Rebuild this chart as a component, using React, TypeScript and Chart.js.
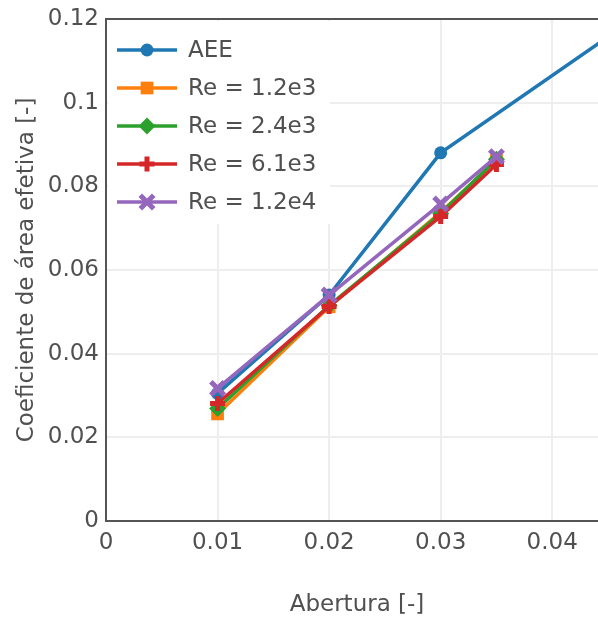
import React, { useEffect, useRef } from 'react';
import { Chart, registerables } from 'chart.js';
import { drawPoint } from 'chart.js/helpers';

Chart.register(...registerables);

// ---- data ----
const seriesLabels = ['AEE', 'Re = 1.2e3', 'Re = 2.4e3', 'Re = 6.1e3', 'Re = 1.2e4'];
const xAEE = [0.01, 0.02, 0.03, 0.05];
const yAEE = [0.0305, 0.054, 0.088, 0.125];
const xRe = [0.01, 0.02, 0.03, 0.035];
const yRe12e3 = [0.0256, 0.0512, 0.0738, 0.0862];
const yRe24e3 = [0.0269, 0.0515, 0.0735, 0.0865];
const yRe61e3 = [0.0281, 0.0513, 0.0728, 0.0852];
const yRe12e4 = [0.0317, 0.0540, 0.0758, 0.0871];

const xTickValues = [0, 0.01, 0.02, 0.03, 0.04];
const xTickLabels = ['0', '0.01', '0.02', '0.03', '0.04'];
const yTickValues = [0, 0.02, 0.04, 0.06, 0.08, 0.1, 0.12];
const yTickLabels = ['0', '0.02', '0.04', '0.06', '0.08', '0.1', '0.12'];

const xTitle = 'Abertura [-]';
const yTitle = 'Coeficiente de área efetiva [-]';

// ---- styles ----
const colors = ['#1f77b4', '#ff7f0e', '#2ca02c', '#d62728', '#9467bd'];
const pointStyles = ['circle', 'rect', 'rectRot', 'cross', 'crossRot'];
const pointRadii = [6.5, 9, 8.5, 7.5, 9.5];
const pointBorderWidths = [0, 0, 0, 5, 5];

const FONT_FAMILY = 'DejaVu Sans';
const FONT_SIZE = 23;
const TEXT_COLOR = '#505050';
const AXIS_COLOR = '#555555';
const GRID_COLOR = '#eeeeee';

const CANVAS_W = 612;
const CANVAS_H = 619;

export default function App() {
  const ref = useRef<HTMLCanvasElement>(null);

  useEffect(() => {
    const canvas = ref.current;
    if (!canvas) return;

    const xs = [xAEE, xRe, xRe, xRe, xRe];
    const ys = [yAEE, yRe12e3, yRe24e3, yRe61e3, yRe12e4];

    const datasets = seriesLabels.map((label, i) => ({
      label,
      data: xs[i].map((x, j) => ({ x, y: ys[i][j] })),
      borderColor: colors[i],
      backgroundColor: colors[i],
      borderWidth: 3.5,
      pointStyle: pointStyles[i],
      pointRadius: pointRadii[i],
      pointBorderWidth: pointBorderWidths[i],
      pointBorderColor: colors[i],
      pointBackgroundColor: colors[i],
      order: seriesLabels.length - i,
      tension: 0,
      fill: false,
    }));

    const frame = {
      id: 'frame',
      beforeDatasetsDraw(chart: any) {
        const { ctx, chartArea } = chart;
        ctx.save();
        ctx.strokeStyle = AXIS_COLOR;
        ctx.lineWidth = 2;
        ctx.beginPath();
        ctx.moveTo(chartArea.left - 1, chartArea.top);
        ctx.lineTo(chartArea.right + 1, chartArea.top);
        ctx.moveTo(chartArea.right, chartArea.top);
        ctx.lineTo(chartArea.right, chartArea.bottom);
        ctx.stroke();
        ctx.restore();
      },
    };

    const legend = {
      id: 'plotlyLegend',
      afterDatasetsDraw(chart: any) {
        const { ctx, chartArea } = chart;
        const left = chartArea.left;
        const top = chartArea.top;
        ctx.save();
        ctx.fillStyle = '#ffffff';
        ctx.fillRect(left + 2, top + 2, 222, 203);
        seriesLabels.forEach((label, i) => {
          const y = top + 31 + i * 38;
          ctx.strokeStyle = colors[i];
          ctx.lineWidth = 3.5;
          ctx.beginPath();
          ctx.moveTo(left + 11, y);
          ctx.lineTo(left + 71, y);
          ctx.stroke();
          ctx.fillStyle = colors[i];
          ctx.strokeStyle = colors[i];
          ctx.lineWidth = pointBorderWidths[i];
          drawPoint(ctx, {
            pointStyle: pointStyles[i],
            radius: pointRadii[i],
            borderWidth: pointBorderWidths[i],
            rotation: 0,
          } as any, left + 41, y);
          ctx.fillStyle = TEXT_COLOR;
          ctx.font = `${FONT_SIZE}px "${FONT_FAMILY}"`;
          ctx.textAlign = 'left';
          ctx.textBaseline = 'middle';
          ctx.fillText(label, left + 82, y + 1);
        });
        ctx.restore();
      },
    };

    const font = { family: FONT_FAMILY, size: FONT_SIZE };

    const chart = new Chart(canvas, {
      type: 'line',
      data: { datasets: datasets as any },
      plugins: [frame, legend],
      options: {
        animation: false,
        responsive: false,
        maintainAspectRatio: false,
        layout: { autoPadding: false, padding: { top: 19, right: 4, left: 0, bottom: 0 } },
        plugins: {
          legend: { display: false },
          tooltip: { enabled: false },
        },
        scales: {
          x: {
            type: 'linear',
            min: 0,
            max: 0.045,
            afterFit: (s: any) => { s.height = 98; s.paddingLeft = 0; s.paddingRight = 0; },
            afterBuildTicks: (s: any) => { s.ticks = xTickValues.map((v) => ({ value: v })); },
            ticks: {
              padding: 8,
              font,
              color: TEXT_COLOR,
              maxRotation: 0,
              autoSkip: false,
              callback: (_v: any, idx: number) => xTickLabels[idx],
            },
            grid: { color: GRID_COLOR, lineWidth: 2, drawTicks: false },
            border: { color: AXIS_COLOR, width: 2 },
            title: {
              display: true,
              text: xTitle,
              font,
              color: TEXT_COLOR,
              padding: { top: 0, bottom: 0 },
            },
          },
          y: {
            type: 'linear',
            min: 0,
            max: 0.12,
            afterFit: (s: any) => { s.width = 106; s.paddingTop = 0; s.paddingBottom = 0; },
            afterBuildTicks: (s: any) => { s.ticks = yTickValues.map((v) => ({ value: v })); },
            ticks: {
              padding: 7,
              font,
              color: TEXT_COLOR,
              autoSkip: false,
              callback: (_v: any, idx: number) => yTickLabels[idx],
            },
            grid: { color: GRID_COLOR, lineWidth: 2, drawTicks: false },
            border: { color: AXIS_COLOR, width: 2 },
            title: {
              display: true,
              text: yTitle,
              font,
              color: TEXT_COLOR,
              padding: { top: 13, bottom: 0 },
            },
          },
        },
      },
    });

    return () => { chart.destroy(); };
  }, []);

  return (
    <div style={{ position: 'fixed', left: 0, top: 0, width: 598, height: 619, overflow: 'hidden', background: '#fff' }}>
      <div style={{ position: 'absolute', left: 0, top: 0, width: CANVAS_W, height: CANVAS_H }}>
        <canvas ref={ref} width={CANVAS_W} height={CANVAS_H} style={{ display: 'block', width: CANVAS_W, height: CANVAS_H }} />
      </div>
    </div>
  );
}
